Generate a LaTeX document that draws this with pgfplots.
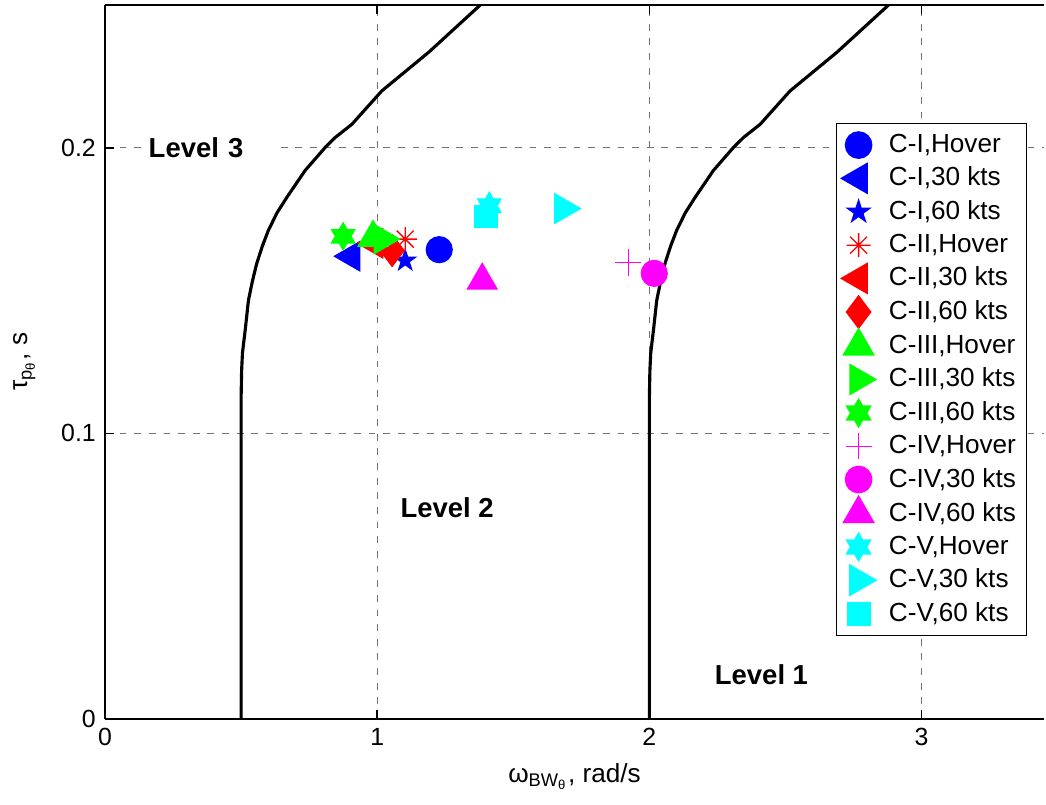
\documentclass[border=0pt]{standalone}
\usepackage{fontspec}
\setmainfont{Liberation Sans}
\usepackage{pgfplots}
\pgfplotsset{compat=1.18}
\usetikzlibrary{plotmarks}

\newcommand{\mpt}[2]{\pgfqpoint{#1\pgfplotmarksize}{#2\pgfplotmarksize}}
\pgfdeclareplotmark{fstar}{%
  \pgfpathmoveto{\mpt{0}{1}}%
  \pgfpathlineto{\mpt{-0.2245}{0.309}}%
  \pgfpathlineto{\mpt{-0.951}{0.309}}%
  \pgfpathlineto{\mpt{-0.363}{-0.118}}%
  \pgfpathlineto{\mpt{-0.588}{-0.809}}%
  \pgfpathlineto{\mpt{0}{-0.382}}%
  \pgfpathlineto{\mpt{0.588}{-0.809}}%
  \pgfpathlineto{\mpt{0.363}{-0.118}}%
  \pgfpathlineto{\mpt{0.951}{0.309}}%
  \pgfpathlineto{\mpt{0.2245}{0.309}}%
  \pgfpathclose\pgfusepathqfillstroke}
\pgfdeclareplotmark{hexa}{%
  \pgfpathmoveto{\mpt{0}{1}}%
  \pgfpathlineto{\mpt{-0.2887}{0.5}}%
  \pgfpathlineto{\mpt{-0.866}{0.5}}%
  \pgfpathlineto{\mpt{-0.577}{0}}%
  \pgfpathlineto{\mpt{-0.866}{-0.5}}%
  \pgfpathlineto{\mpt{-0.2887}{-0.5}}%
  \pgfpathlineto{\mpt{0}{-1}}%
  \pgfpathlineto{\mpt{0.2887}{-0.5}}%
  \pgfpathlineto{\mpt{0.866}{-0.5}}%
  \pgfpathlineto{\mpt{0.577}{0}}%
  \pgfpathlineto{\mpt{0.866}{0.5}}%
  \pgfpathlineto{\mpt{0.2887}{0.5}}%
  \pgfpathclose\pgfusepathqfillstroke}
\pgfdeclareplotmark{ast8}{%
  \pgfpathmoveto{\mpt{-1}{0}}\pgfpathlineto{\mpt{1}{0}}%
  \pgfpathmoveto{\mpt{0}{-1}}\pgfpathlineto{\mpt{0}{1}}%
  \pgfpathmoveto{\mpt{-0.707}{-0.707}}\pgfpathlineto{\mpt{0.707}{0.707}}%
  \pgfpathmoveto{\mpt{-0.707}{0.707}}\pgfpathlineto{\mpt{0.707}{-0.707}}%
  \pgfusepathqstroke}

\definecolor{mblue}{rgb}{0,0,1}
\definecolor{mred}{rgb}{1,0,0}
\definecolor{mgreen}{rgb}{0,1,0}
\definecolor{mmag}{rgb}{1,0,1}
\definecolor{mcyan}{rgb}{0,1,1}

\begin{document}
\begin{tikzpicture}
\begin{axis}[name=ax, scale only axis, width=359.1pt, height=273pt,
  xmin=0, xmax=3.45, ymin=0, ymax=0.25,
  axis x line*=box, axis y line*=left,
  xtick={0,1,2,3}, ytick={0,0.1,0.2},
  grid=major,
  grid style={dash pattern=on 2.6pt off 3pt, color=black!55, line width=0.45pt},
  axis line style={line width=0.6pt, black},
  tick style={black, line width=0.6pt}, major tick length=3.5pt,
  tick label style={font=\fontsize{9.5}{10}\selectfont},
  /pgf/number format/assume math mode=true,
  yticklabel style={/pgf/number format/fixed},
  xlabel={ω\textsubscript{BW\textsubscript{θ}}, rad/s},
  ylabel={τ\textsubscript{p\textsubscript{θ}}, s},
  ylabel style={yshift=3pt},
  label style={font=\fontsize{10}{11}\selectfont},
  legend style={at={(0.982,0.835)}, anchor=north east, draw=black, line width=0.6pt,
    fill=white, font=\fontsize{10}{12}\selectfont, row sep=0.1pt, inner sep=2pt,
    /tikz/every odd column/.append style={column sep=3pt}},
  legend cell align=left,
]
\addplot[only marks, mark=*, mark size=5pt, color=mblue] coordinates {(1.228,0.1643)};
\addlegendentry{C-I,Hover}
\addplot[only marks, mark=triangle*, mark size=6.5pt, mark options={rotate=90}, color=mblue] coordinates {(0.905,0.162)};
\addlegendentry{C-I,30 kts}
\addplot[only marks, mark=fstar, mark size=4.3pt, color=mblue] coordinates {(1.103,0.1605)};
\addlegendentry{C-I,60 kts}
\addplot[only marks, mark=ast8, mark size=4.6pt, mark options={line width=0.5pt}, color=mred] coordinates {(1.103,0.168)};
\addlegendentry{C-II,Hover}
\addplot[only marks, mark=triangle*, mark size=6.5pt, mark options={rotate=90}, color=mred] coordinates {(0.99,0.1665)};
\addlegendentry{C-II,30 kts}
\addplot[only marks, mark=diamond*, mark size=6.1pt, color=mred] coordinates {(1.055,0.164)};
\addlegendentry{C-II,60 kts}
\addplot[only marks, mark=triangle*, mark size=6.6pt, color=mgreen] coordinates {(0.985,0.1685)};
\addlegendentry{C-III,Hover}
\addplot[only marks, mark=triangle*, mark size=6.5pt, mark options={rotate=-90}, color=mgreen] coordinates {(1.02,0.168)};
\addlegendentry{C-III,30 kts}
\addplot[only marks, mark=hexa, mark size=5.2pt, color=mgreen] coordinates {(0.875,0.169)};
\addlegendentry{C-III,60 kts}
\addplot[only marks, mark=+, mark size=5pt, mark options={line width=0.5pt}, color=mmag] coordinates {(1.923,0.1598)};
\addlegendentry{C-IV,Hover}
\addplot[only marks, mark=*, mark size=5pt, color=mmag] coordinates {(2.018,0.156)};
\addlegendentry{C-IV,30 kts}
\addplot[only marks, mark=triangle*, mark size=6.6pt, color=mmag] coordinates {(1.386,0.1535)};
\addlegendentry{C-IV,60 kts}
\addplot[only marks, mark=hexa, mark size=5.2pt, color=mcyan] coordinates {(1.412,0.1797)};
\addlegendentry{C-V,Hover}
\addplot[only marks, mark=triangle*, mark size=6.6pt, mark options={rotate=-90}, color=mcyan] coordinates {(1.684,0.1787)};
\addlegendentry{C-V,30 kts}
\addplot[only marks, mark=square*, mark size=4.3pt, color=mcyan] coordinates {(1.40,0.176)};
\addlegendentry{C-V,60 kts}

\addplot[black, line width=1.2pt, forget plot, line join=round] coordinates {
(0.500,0) (0.500,0.112) (0.502,0.122) (0.505,0.128) (0.509,0.1313) (0.515,0.136)
(0.527,0.1465) (0.541,0.153) (0.557,0.1593) (0.578,0.1655) (0.600,0.171)
(0.632,0.1772) (0.668,0.1826) (0.735,0.192) (0.809,0.2001) (0.846,0.2036)
(0.907,0.2082) (1.017,0.2199) (1.19,0.2335) (1.379,0.25)};
\addplot[black, line width=1.2pt, forget plot, line join=round] coordinates {
(2.000,0) (2.000,0.112) (2.002,0.122) (2.005,0.128) (2.009,0.1313) (2.015,0.136)
(2.027,0.1465) (2.041,0.153) (2.057,0.1593) (2.078,0.1655) (2.100,0.171)
(2.132,0.1772) (2.168,0.1826) (2.235,0.192) (2.309,0.2001) (2.346,0.2036)
(2.407,0.2082) (2.517,0.2199) (2.69,0.2335) (2.879,0.25)};

\node[anchor=west, fill=white, inner xsep=3pt, inner ysep=2pt, text width=47pt, align=left,
  font=\bfseries\fontsize{10.5}{11}\selectfont] at (axis cs:0.13,0.2) {Level 3};
\node[font=\bfseries\fontsize{10.5}{11}\selectfont] at (axis cs:1.257,0.0741) {Level 2};
\node[font=\bfseries\fontsize{10.5}{11}\selectfont] at (axis cs:2.412,0.0154) {Level 1};
\end{axis}
\pgfresetboundingbox
\useasboundingbox ([xshift=-40.15pt,yshift=-32.9pt]ax.south west) rectangle ([xshift=0.76pt,yshift=1.9pt]ax.north east);
\end{tikzpicture}
\end{document}
